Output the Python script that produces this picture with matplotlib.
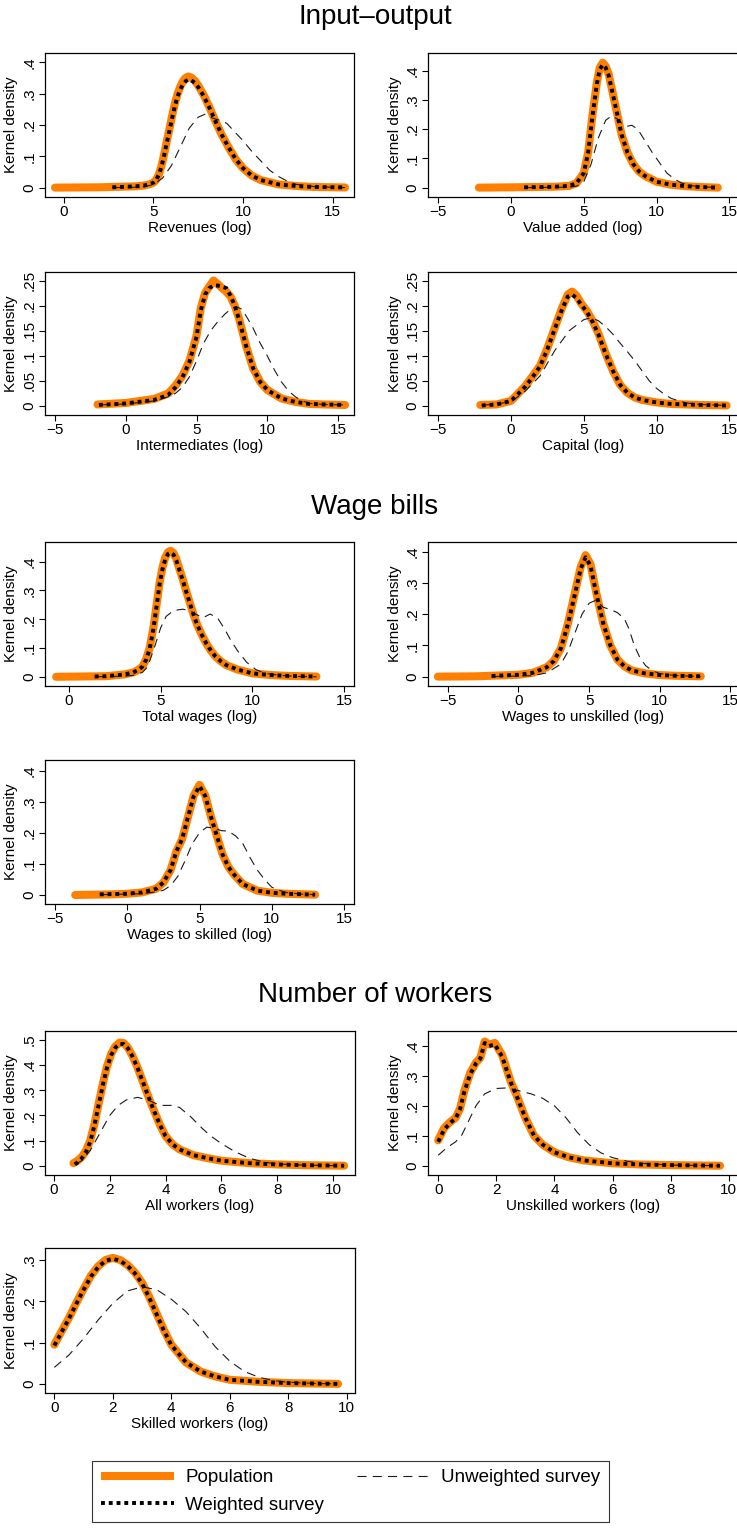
# Kernel densities of firm variables: population vs weighted / unweighted survey

import matplotlib
matplotlib.use("Agg")
import matplotlib.pyplot as plt
from matplotlib.lines import Line2D

plt.rcParams["font.family"] = ["Liberation Sans", "DejaVu Sans"]
plt.rcParams["lines.scale_dashes"] = False
plt.rcParams["axes.linewidth"] = 0.9

# DATA -----------------------------------------------

# Revenues
rev_pop_x = [-0.5, 2.0, 4.0, 4.5, 4.8, 5.0, 5.15, 5.3, 5.45, 5.6, 5.75, 5.9, 6.05, 6.2, 6.35, 6.5, 6.65, 6.8, 6.95, 7.1, 7.3, 7.5, 7.8, 8.1, 8.4, 8.8, 9.2, 9.6, 10.0, 10.5, 11.0, 12.0, 13.0, 14.0, 15.7]
rev_pop_y = [0, 0.001, 0.004, 0.007, 0.011, 0.016, 0.025, 0.042, 0.07, 0.108, 0.15, 0.19, 0.232, 0.27, 0.3, 0.323, 0.34, 0.351, 0.355, 0.352, 0.342, 0.326, 0.296, 0.26, 0.22, 0.17, 0.128, 0.09, 0.062, 0.038, 0.024, 0.01, 0.005, 0.002, 0.0005]
rev_wgt_x = [2.7, 4.0, 4.5, 4.8, 5.0, 5.15, 5.3, 5.45, 5.6, 5.75, 5.9, 6.05, 6.2, 6.35, 6.5, 6.65, 6.8, 6.95, 7.1, 7.3, 7.5, 7.8, 8.1, 8.4, 8.8, 9.2, 9.6, 10.0, 10.5, 11.0, 12.0, 13.0, 14.0, 15.7]
rev_wgt_y = [0.001, 0.004, 0.007, 0.011, 0.016, 0.025, 0.041, 0.068, 0.104, 0.145, 0.184, 0.225, 0.262, 0.292, 0.314, 0.33, 0.34, 0.345, 0.343, 0.335, 0.321, 0.293, 0.258, 0.22, 0.17, 0.128, 0.09, 0.062, 0.038, 0.024, 0.01, 0.005, 0.002, 0.0005]
rev_unw_x = [2.7, 4.0, 4.5, 5.0, 5.5, 6.0, 6.5, 7.0, 7.5, 7.9, 8.3, 8.7, 9.1, 9.5, 10.0, 10.5, 11.0, 11.5, 12.0, 12.5, 13.0, 14.0, 15.7]
rev_unw_y = [0, 0.001, 0.003, 0.01, 0.03, 0.07, 0.13, 0.19, 0.225, 0.235, 0.222, 0.215, 0.205, 0.18, 0.15, 0.115, 0.085, 0.055, 0.035, 0.02, 0.01, 0.003, 0]

# Value added
va_pop_x = [-2.2, 0.0, 3.0, 4.0, 4.5, 5.0, 5.3, 5.6, 5.9, 6.1, 6.3, 6.5, 6.7, 7.0, 7.3, 7.6, 8.0, 8.4, 8.8, 9.2, 10.0, 11.0, 12.0, 13.0, 14.2]
va_pop_y = [0, 0.001, 0.003, 0.006, 0.015, 0.05, 0.12, 0.25, 0.36, 0.41, 0.427, 0.415, 0.39, 0.32, 0.25, 0.18, 0.12, 0.08, 0.055, 0.04, 0.02, 0.01, 0.005, 0.002, 0.0]
va_wgt_x = [0.9, 3.0, 4.0, 4.5, 5.0, 5.3, 5.6, 5.9, 6.1, 6.3, 6.5, 6.7, 7.0, 7.3, 7.6, 8.0, 8.4, 8.8, 9.2, 10.0, 11.0, 12.0, 13.0, 14.2]
va_wgt_y = [0.001, 0.003, 0.006, 0.015, 0.05, 0.12, 0.245, 0.355, 0.405, 0.42, 0.41, 0.385, 0.318, 0.25, 0.18, 0.12, 0.08, 0.055, 0.04, 0.02, 0.01, 0.005, 0.002, 0.0]
va_unw_x = [0.9, 3.0, 4.0, 4.5, 5.0, 5.5, 6.0, 6.5, 6.9, 7.3, 7.7, 8.0, 8.3, 8.7, 9.2, 9.7, 10.2, 10.7, 11.2, 11.7, 12.5, 13.5, 14.2]
va_unw_y = [0, 0.001, 0.002, 0.005, 0.02, 0.08, 0.17, 0.23, 0.245, 0.235, 0.215, 0.21, 0.213, 0.2, 0.16, 0.12, 0.085, 0.05, 0.03, 0.016, 0.006, 0.002, 0]

# Intermediates
int_pop_x = [-2.0, 0.0, 2.0, 3.0, 3.5, 4.0, 4.5, 5.0, 5.3, 5.6, 5.9, 6.2, 6.5, 6.8, 7.1, 7.4, 7.7, 8.0, 8.5, 9.0, 9.5, 10.0, 11.0, 12.0, 13.0, 14.0, 15.5]
int_pop_y = [0.003, 0.006, 0.014, 0.025, 0.04, 0.06, 0.09, 0.14, 0.195, 0.225, 0.238, 0.25, 0.243, 0.235, 0.228, 0.218, 0.2, 0.175, 0.12, 0.075, 0.048, 0.032, 0.015, 0.008, 0.004, 0.003, 0.002]
int_wgt_x = [-1.9, 0.0, 2.0, 3.0, 3.5, 4.0, 4.5, 5.0, 5.3, 5.6, 5.9, 6.2, 6.5, 6.8, 7.1, 7.4, 7.7, 8.0, 8.5, 9.0, 9.5, 10.0, 11.0, 12.0, 13.0, 14.0, 15.5]
int_wgt_y = [0.002, 0.005, 0.012, 0.022, 0.037, 0.057, 0.088, 0.138, 0.19, 0.222, 0.235, 0.24, 0.24, 0.238, 0.235, 0.22, 0.2, 0.173, 0.12, 0.075, 0.048, 0.032, 0.015, 0.008, 0.004, 0.003, 0.002]
int_unw_x = [-1.9, 0.0, 2.0, 3.0, 3.5, 4.0, 4.5, 5.0, 5.5, 6.0, 6.5, 7.0, 7.5, 7.8, 8.2, 8.6, 9.0, 9.5, 10.0, 10.5, 11.0, 11.5, 12.0, 12.5, 13.0, 14.0, 15.5]
int_unw_y = [0.002, 0.004, 0.01, 0.018, 0.025, 0.037, 0.058, 0.09, 0.125, 0.15, 0.168, 0.183, 0.195, 0.198, 0.193, 0.175, 0.155, 0.125, 0.1, 0.072, 0.048, 0.03, 0.018, 0.01, 0.005, 0.003, 0.002]

# Capital
cap_pop_x = [-2.1, -1.0, 0.0, 0.5, 1.0, 1.5, 2.0, 2.5, 3.0, 3.5, 3.9, 4.2, 4.5, 4.8, 5.2, 5.6, 6.0, 6.5, 7.0, 7.5, 8.0, 8.5, 9.0, 10.0, 11.0, 12.0, 13.0, 14.8]
cap_pop_y = [0.002, 0.003, 0.01, 0.025, 0.04, 0.06, 0.08, 0.115, 0.155, 0.195, 0.222, 0.228, 0.22, 0.205, 0.19, 0.17, 0.145, 0.105, 0.07, 0.042, 0.026, 0.017, 0.012, 0.007, 0.004, 0.003, 0.002, 0.001]
cap_wgt_x = [-2.0, -1.0, 0.0, 0.5, 1.0, 1.5, 2.0, 2.5, 3.0, 3.5, 3.9, 4.2, 4.5, 4.8, 5.2, 5.6, 6.0, 6.5, 7.0, 7.5, 8.0, 8.5, 9.0, 10.0, 11.0, 12.0, 13.0, 14.8]
cap_wgt_y = [0.001, 0.003, 0.01, 0.024, 0.039, 0.058, 0.079, 0.113, 0.153, 0.192, 0.218, 0.222, 0.215, 0.203, 0.188, 0.168, 0.143, 0.104, 0.07, 0.042, 0.026, 0.017, 0.012, 0.007, 0.004, 0.003, 0.002, 0.001]
cap_unw_x = [-2.0, 0.0, 1.0, 2.0, 3.0, 4.0, 5.0, 5.5, 6.0, 6.5, 7.0, 7.5, 8.0, 8.5, 9.0, 9.5, 10.0, 10.5, 11.0, 12.0, 13.0, 14.8]
cap_unw_y = [0.001, 0.008, 0.03, 0.06, 0.11, 0.15, 0.172, 0.176, 0.17, 0.158, 0.143, 0.125, 0.108, 0.09, 0.07, 0.05, 0.035, 0.024, 0.015, 0.006, 0.003, 0.001]

# Total wages
tw_pop_x = [-0.7, 2.0, 3.0, 3.5, 3.8, 4.0, 4.2, 4.4, 4.6, 4.8, 4.95, 5.1, 5.25, 5.4, 5.55, 5.7, 5.85, 6.0, 6.2, 6.4, 6.6, 6.8, 7.0, 7.25, 7.5, 7.75, 8.0, 8.3, 8.6, 9.2, 10.0, 11.0, 12.0, 13.5]
tw_pop_y = [0, 0.002, 0.008, 0.015, 0.025, 0.035, 0.06, 0.1, 0.17, 0.26, 0.33, 0.38, 0.415, 0.433, 0.438, 0.43, 0.41, 0.38, 0.34, 0.297, 0.255, 0.215, 0.18, 0.145, 0.115, 0.09, 0.07, 0.053, 0.04, 0.025, 0.012, 0.006, 0.003, 0.001]
tw_wgt_x = [1.4, 2.0, 3.0, 3.5, 3.8, 4.0, 4.2, 4.4, 4.6, 4.8, 4.95, 5.1, 5.25, 5.4, 5.55, 5.7, 5.85, 6.0, 6.2, 6.4, 6.6, 6.8, 7.0, 7.25, 7.5, 7.75, 8.0, 8.3, 8.6, 9.2, 10.0, 11.0, 12.0, 13.5]
tw_wgt_y = [0.001, 0.002, 0.008, 0.015, 0.025, 0.035, 0.058, 0.097, 0.165, 0.255, 0.325, 0.374, 0.408, 0.427, 0.432, 0.425, 0.405, 0.376, 0.337, 0.295, 0.254, 0.215, 0.18, 0.145, 0.115, 0.09, 0.07, 0.053, 0.04, 0.025, 0.012, 0.006, 0.003, 0.001]
tw_unw_x = [1.4, 3.0, 3.5, 4.0, 4.3, 4.7, 5.0, 5.3, 5.7, 6.2, 6.6, 7.0, 7.3, 7.7, 8.1, 8.5, 8.8, 9.2, 9.7, 10.2, 10.7, 11.5, 12.5, 13.5]
tw_unw_y = [0, 0.002, 0.005, 0.015, 0.035, 0.11, 0.17, 0.21, 0.23, 0.235, 0.23, 0.215, 0.205, 0.218, 0.205, 0.165, 0.13, 0.09, 0.05, 0.025, 0.012, 0.005, 0.001, 0]

# Wages to unskilled
wu_pop_x = [-5.7, -3.0, 0.0, 1.0, 2.0, 2.5, 3.0, 3.5, 4.0, 4.4, 4.75, 5.1, 5.5, 6.0, 6.5, 7.0, 7.5, 8.0, 9.0, 10.0, 11.0, 12.9]
wu_pop_y = [0, 0.001, 0.006, 0.012, 0.03, 0.05, 0.09, 0.17, 0.27, 0.35, 0.389, 0.36, 0.27, 0.17, 0.1, 0.055, 0.033, 0.02, 0.01, 0.005, 0.003, 0.001]
wu_wgt_x = [-1.9, 0.0, 1.0, 2.0, 2.5, 3.0, 3.5, 4.0, 4.4, 4.75, 5.1, 5.5, 6.0, 6.5, 7.0, 7.5, 8.0, 9.0, 10.0, 11.0, 12.9]
wu_wgt_y = [0.002, 0.006, 0.012, 0.03, 0.05, 0.09, 0.168, 0.265, 0.345, 0.382, 0.355, 0.268, 0.17, 0.1, 0.055, 0.033, 0.02, 0.01, 0.005, 0.003, 0.001]
wu_unw_x = [-1.9, 1.0, 2.0, 3.0, 3.5, 4.0, 4.5, 5.0, 5.5, 6.0, 6.5, 7.0, 7.5, 7.8, 8.2, 8.6, 9.0, 9.5, 10.0, 11.0, 12.9]
wu_unw_y = [0, 0.003, 0.012, 0.04, 0.08, 0.14, 0.2, 0.235, 0.245, 0.222, 0.215, 0.205, 0.185, 0.155, 0.1, 0.06, 0.035, 0.018, 0.01, 0.004, 0]

# Wages to skilled
ws_pop_x = [-3.6, -1.0, 0.0, 1.0, 2.0, 2.5, 3.0, 3.4, 3.8, 4.2, 4.6, 5.0, 5.4, 5.8, 6.2, 6.6, 7.0, 7.4, 8.0, 9.0, 10.0, 11.0, 13.0]
ws_pop_y = [0, 0.002, 0.004, 0.008, 0.02, 0.04, 0.08, 0.14, 0.18, 0.25, 0.32, 0.354, 0.32, 0.25, 0.19, 0.13, 0.09, 0.065, 0.035, 0.014, 0.007, 0.004, 0.001]
ws_wgt_x = [-1.9, 0.0, 1.0, 2.0, 2.5, 3.0, 3.4, 3.8, 4.2, 4.6, 5.0, 5.4, 5.8, 6.2, 6.6, 7.0, 7.4, 8.0, 9.0, 10.0, 11.0, 13.0]
ws_wgt_y = [0.002, 0.004, 0.008, 0.02, 0.04, 0.08, 0.14, 0.18, 0.25, 0.318, 0.35, 0.318, 0.25, 0.19, 0.13, 0.09, 0.065, 0.035, 0.014, 0.007, 0.004, 0.001]
ws_unw_x = [-1.9, 1.0, 2.0, 2.5, 3.0, 3.5, 4.0, 4.5, 5.0, 5.5, 6.0, 6.5, 7.0, 7.5, 8.0, 8.5, 9.0, 9.5, 10.0, 10.5, 11.0, 12.0, 13.0]
ws_unw_y = [0.001, 0.004, 0.01, 0.015, 0.03, 0.06, 0.11, 0.165, 0.2, 0.218, 0.215, 0.207, 0.205, 0.19, 0.165, 0.12, 0.08, 0.05, 0.025, 0.015, 0.008, 0.003, 0.001]

# All workers
aw_pop_x = [0.7, 0.85, 1.0, 1.15, 1.3, 1.45, 1.6, 1.75, 1.9, 2.05, 2.2, 2.35, 2.5, 2.65, 2.8, 3.0, 3.2, 3.4, 3.6, 3.8, 4.0, 4.25, 4.5, 5.0, 5.5, 6.0, 7.0, 8.0, 9.0, 10.4]
aw_pop_y = [0.01, 0.02, 0.035, 0.06, 0.1, 0.165, 0.245, 0.325, 0.395, 0.445, 0.475, 0.49, 0.488, 0.47, 0.44, 0.39, 0.33, 0.27, 0.215, 0.162, 0.118, 0.085, 0.065, 0.042, 0.03, 0.02, 0.01, 0.005, 0.002, 0]
aw_wgt_x = [0.75, 0.85, 1.0, 1.15, 1.3, 1.45, 1.6, 1.75, 1.9, 2.05, 2.2, 2.35, 2.5, 2.65, 2.8, 3.0, 3.2, 3.4, 3.6, 3.8, 4.0, 4.25, 4.5, 5.0, 5.5, 6.0, 7.0, 8.0, 9.0, 10.4]
aw_wgt_y = [0.005, 0.014, 0.03, 0.055, 0.095, 0.16, 0.24, 0.32, 0.39, 0.44, 0.47, 0.485, 0.484, 0.467, 0.438, 0.388, 0.33, 0.27, 0.215, 0.162, 0.118, 0.085, 0.065, 0.042, 0.03, 0.02, 0.01, 0.005, 0.002, 0]
aw_unw_x = [0.75, 1.0, 1.3, 1.65, 2.0, 2.3, 2.6, 3.0, 3.4, 3.8, 4.2, 4.5, 4.9, 5.3, 5.6, 6.0, 6.5, 7.0, 7.5, 8.0, 9.0, 10.4]
aw_unw_y = [0.005, 0.02, 0.06, 0.13, 0.2, 0.24, 0.262, 0.272, 0.26, 0.24, 0.24, 0.232, 0.195, 0.15, 0.12, 0.088, 0.055, 0.03, 0.015, 0.007, 0.002, 0]

# Unskilled workers
uw_pop_x = [0.0, 0.2, 0.4, 0.6, 0.75, 0.9, 1.1, 1.3, 1.45, 1.6, 1.75, 1.95, 2.2, 2.5, 2.7, 3.0, 3.3, 3.6, 4.0, 4.5, 5.0, 6.0, 7.0, 8.0, 9.7]
uw_pop_y = [0.085, 0.125, 0.145, 0.16, 0.19, 0.25, 0.31, 0.345, 0.36, 0.415, 0.405, 0.41, 0.37, 0.28, 0.235, 0.16, 0.1, 0.07, 0.045, 0.028, 0.018, 0.008, 0.004, 0.002, 0]
uw_wgt_x = [0.0, 0.2, 0.4, 0.6, 0.75, 0.9, 1.1, 1.3, 1.45, 1.6, 1.75, 1.95, 2.2, 2.5, 2.7, 3.0, 3.3, 3.6, 4.0, 4.5, 5.0, 6.0, 7.0, 8.0, 9.7]
uw_wgt_y = [0.08, 0.12, 0.142, 0.158, 0.188, 0.248, 0.305, 0.342, 0.358, 0.41, 0.4, 0.405, 0.365, 0.278, 0.233, 0.16, 0.1, 0.07, 0.045, 0.028, 0.018, 0.008, 0.004, 0.002, 0]
uw_unw_x = [0.0, 0.3, 0.6, 0.8, 1.0, 1.3, 1.6, 2.0, 2.4, 2.8, 3.2, 3.6, 4.0, 4.4, 4.8, 5.2, 5.6, 6.0, 6.5, 7.0, 8.0, 9.7]
uw_unw_y = [0.035, 0.06, 0.08, 0.1, 0.14, 0.2, 0.24, 0.258, 0.26, 0.25, 0.24, 0.225, 0.2, 0.16, 0.11, 0.07, 0.043, 0.027, 0.015, 0.008, 0.002, 0]

# Skilled workers
sw_pop_x = [0.0, 0.25, 0.5, 0.75, 1.0, 1.25, 1.5, 1.75, 2.0, 2.25, 2.5, 2.75, 3.0, 3.25, 3.5, 3.75, 4.0, 4.5, 5.0, 5.5, 6.0, 7.0, 8.0, 9.7]
sw_pop_y = [0.095, 0.128, 0.16, 0.196, 0.23, 0.262, 0.285, 0.3, 0.305, 0.3, 0.288, 0.27, 0.245, 0.21, 0.17, 0.13, 0.095, 0.052, 0.03, 0.018, 0.01, 0.005, 0.002, 0]
sw_wgt_x = [0.0, 0.25, 0.5, 0.75, 1.0, 1.25, 1.5, 1.75, 2.0, 2.25, 2.5, 2.75, 3.0, 3.25, 3.5, 3.75, 4.0, 4.5, 5.0, 5.5, 6.0, 7.0, 8.0, 9.7]
sw_wgt_y = [0.093, 0.126, 0.158, 0.194, 0.228, 0.26, 0.283, 0.298, 0.303, 0.298, 0.286, 0.268, 0.243, 0.208, 0.168, 0.128, 0.094, 0.052, 0.03, 0.018, 0.01, 0.005, 0.002, 0]
sw_unw_x = [0.0, 0.5, 1.0, 1.5, 2.0, 2.5, 3.0, 3.5, 4.0, 4.5, 5.0, 5.5, 6.0, 6.5, 7.0, 7.5, 8.0, 9.0, 9.7]
sw_unw_y = [0.04, 0.07, 0.11, 0.155, 0.195, 0.225, 0.235, 0.228, 0.205, 0.175, 0.135, 0.09, 0.055, 0.03, 0.016, 0.008, 0.004, 0.001, 0]

# panel labels, ticks
x_titles = ["Revenues (log)", "Value added (log)", "Intermediates (log)", "Capital (log)",
            "Total wages (log)", "Wages to unskilled (log)", "Wages to skilled (log)",
            "All workers (log)", "Unskilled workers (log)", "Skilled workers (log)"]
group_titles = ["Input\u2013output", "Wage bills", "Number of workers"]
legend_labels = ["Population", "Weighted survey", "Unweighted survey"]

# FIGURE -----------------------------------------------

W, H = 737, 1528
ORANGE = "#ff8000"
fig = plt.figure(figsize=(W / 100, H / 100), dpi=100)


def fmt(v):
    if v == 0:
        return "0"
    s = f"{abs(v):g}"
    if s.startswith("0."):
        s = s[1:]
    return ("\u2212" if v < 0 else "") + s


def panel(box, xlim, ylim, xticks, yticks, data, xtitle):
    l, r, t, b = box
    ax = fig.add_axes([l / W, 1 - b / H, (r - l) / W, (b - t) / H])
    px, py, wx, wy, ux, uy = data
    ax.plot(px, py, color=ORANGE, lw=5.8, solid_capstyle="round", solid_joinstyle="round", zorder=2)
    ax.plot(ux, uy, color="#1a1a1a", lw=0.8, ls=(0, (6.5, 4.5)), zorder=3)
    ax.plot(wx, wy, color="black", lw=2.8, ls=(0, (2.8, 2.8)), dash_capstyle="butt", zorder=4)
    ax.set_xlim(xlim)
    ax.set_ylim(ylim)
    ax.set_xticks(xticks, [fmt(v) for v in xticks], fontsize=11)
    ax.set_yticks(yticks, [fmt(v) for v in yticks], fontsize=11, rotation=90, va="center")
    ax.tick_params(length=4, width=0.8, pad=2)
    ax.set_xlabel(xtitle, fontsize=11, labelpad=1)
    ax.set_ylabel("Kernel density", fontsize=11, labelpad=3)
    return ax


io_y = [0, 0.1, 0.2, 0.3, 0.4]
q_y = [0, 0.05, 0.1, 0.15, 0.2, 0.25]
x_0_15 = [0, 5, 10, 15]
x_m5_15 = [-5, 0, 5, 10, 15]
x_0_10 = [0, 2, 4, 6, 8, 10]

panel((45, 354, 53, 197), (-1.06, 16.2), (-0.03, 0.43), x_0_15, io_y,
      (rev_pop_x, rev_pop_y, rev_wgt_x, rev_wgt_y, rev_unw_x, rev_unw_y), x_titles[0])
panel((428, 737.5, 53, 197), (-5.69, 15.55), (-0.032, 0.46), x_m5_15, io_y,
      (va_pop_x, va_pop_y, va_wgt_x, va_wgt_y, va_unw_x, va_unw_y), x_titles[1])
panel((45, 354, 272, 415), (-5.71, 16.13), (-0.018, 0.267), x_m5_15, q_y,
      (int_pop_x, int_pop_y, int_wgt_x, int_wgt_y, int_unw_x, int_unw_y), x_titles[2])
panel((428, 737.5, 272, 415), (-5.69, 15.55), (-0.018, 0.267), x_m5_15, q_y,
      (cap_pop_x, cap_pop_y, cap_wgt_x, cap_wgt_y, cap_unw_x, cap_unw_y), x_titles[3])
panel((45, 354, 542, 686), (-1.31, 15.55), (-0.032, 0.4685), x_0_15, io_y,
      (tw_pop_x, tw_pop_y, tw_wgt_x, tw_wgt_y, tw_unw_x, tw_unw_y), x_titles[4])
panel((428, 737.5, 542, 686), (-6.4, 15.5), (-0.03, 0.431), x_m5_15, io_y,
      (wu_pop_x, wu_pop_y, wu_wgt_x, wu_wgt_y, wu_unw_x, wu_unw_y), x_titles[5])
panel((45, 354, 760, 904), (-5.69, 15.69), (-0.029, 0.434), x_m5_15, io_y,
      (ws_pop_x, ws_pop_y, ws_wgt_x, ws_wgt_y, ws_unw_x, ws_unw_y), x_titles[6])
panel((45, 355, 1031, 1175), (-0.32, 10.79), (-0.037, 0.536), x_0_10, [0, 0.1, 0.2, 0.3, 0.4, 0.5],
      (aw_pop_x, aw_pop_y, aw_wgt_x, aw_wgt_y, aw_unw_x, aw_unw_y), x_titles[7])
panel((428, 737.5, 1031, 1175), (-0.35, 10.3), (-0.031, 0.45), x_0_10, io_y,
      (uw_pop_x, uw_pop_y, uw_wgt_x, uw_wgt_y, uw_unw_x, uw_unw_y), x_titles[8])
panel((45, 355, 1248, 1393), (-0.32, 10.28), (-0.022, 0.329), x_0_10, [0, 0.1, 0.2, 0.3],
      (sw_pop_x, sw_pop_y, sw_wgt_x, sw_wgt_y, sw_unw_x, sw_unw_y), x_titles[9])

# group titles
for title, ypix in zip(group_titles, [17, 507, 995]):
    fig.text(375 / W, 1 - ypix / H, title, ha="center", va="center", fontsize=20)

# legend
handles = [
    Line2D([], [], color=ORANGE, lw=5.8, solid_capstyle="butt"),
    Line2D([], [], color="black", lw=2.8, ls=(0, (2.8, 2.8)), dash_capstyle="butt"),
    Line2D([], [], color="#1a1a1a", lw=0.8, ls=(0, (6.5, 4.5))),
]
leg = fig.legend(handles, legend_labels, loc="center", ncol=2, mode="expand",
                 bbox_to_anchor=(83 / W, 1 - 1523 / H, 535 / W, 63 / H),
                 frameon=True, fancybox=False, edgecolor="black", fontsize=13.5,
                 handlelength=3.9, handletextpad=0.6, labelspacing=0.55, borderpad=0.45)
leg.get_frame().set_linewidth(0.8)

fig.savefig("out.png", dpi=100, facecolor="white")
